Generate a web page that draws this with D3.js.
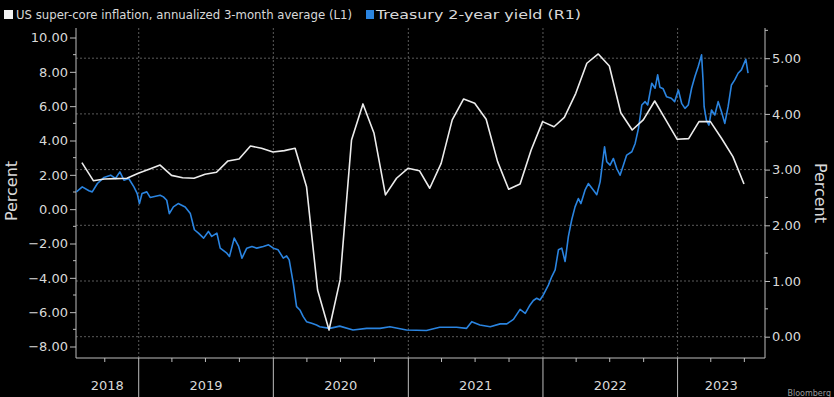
<!DOCTYPE html>
<html>
<head>
<meta charset="utf-8">
<script src="https://cdn.jsdelivr.net/npm/d3@7"></script>
<style>
  html, body { margin: 0; padding: 0; background: #000; overflow: hidden; }
  svg { display: block; }
  text { font-family: "DejaVu Sans", sans-serif; }
</style>
</head>
<body>
<svg id="chart" width="834" height="397"></svg>
<script>
// ---------- data ----------
const legendLabels = ["US super-core inflation, annualized 3-month average (L1)", "Treasury 2-year yield (R1)"];
const yearLabels = ["2018", "2019", "2020", "2021", "2022", "2023"];
const leftTicks = [-8, -6, -4, -2, 0, 2, 4, 6, 8, 10];
const rightTicks = [0, 1, 2, 3, 4, 5];

const inflMonths = [
  "2018-07","2018-08","2018-09","2018-10","2018-11","2018-12",
  "2019-01","2019-02","2019-03","2019-04","2019-05","2019-06","2019-07","2019-08","2019-09","2019-10","2019-11","2019-12",
  "2020-01","2020-02","2020-03","2020-04","2020-05","2020-06","2020-07","2020-08","2020-09","2020-10","2020-11","2020-12",
  "2021-01","2021-02","2021-03","2021-04","2021-05","2021-06","2021-07","2021-08","2021-09","2021-10","2021-11","2021-12",
  "2022-01","2022-02","2022-03","2022-04","2022-05","2022-06","2022-07","2022-08","2022-09","2022-10","2022-11","2022-12",
  "2023-01","2023-02","2023-03","2023-04","2023-05","2023-06"
];
const inflValues = [
  2.71, 1.66, 1.76, 1.78, 1.80, 2.09,
  2.34, 2.57, 1.97, 1.83, 1.80, 2.03, 2.15, 2.81, 2.92, 3.68, 3.55, 3.33,
  3.41, 3.55, 1.31, -4.71, -7.04, -4.12, 4.03, 6.13, 4.42, 0.83, 1.80, 2.38,
  2.24, 1.22, 2.67, 5.20, 6.42, 6.17, 5.24, 2.77, 1.16, 1.47, 3.45, 5.10,
  4.80, 5.35, 6.75, 8.50, 9.04, 8.34, 5.62, 4.61, 5.20, 6.30, 5.20, 4.07,
  4.11, 5.10, 5.10, 4.13, 3.06, 1.47
];

const yieldDates = [
  "2018-07-16","2018-08-01","2018-08-19","2018-08-28","2018-09-11","2018-09-29","2018-10-17","2018-10-30",
  "2018-11-11","2018-11-22","2018-12-05","2018-12-19","2018-12-28","2019-01-03","2019-01-10","2019-01-23",
  "2019-02-01","2019-02-28","2019-03-09","2019-03-18","2019-03-25","2019-04-05","2019-04-18","2019-05-07",
  "2019-05-21","2019-06-01","2019-06-12","2019-06-26","2019-07-09","2019-07-18","2019-08-01","2019-08-10",
  "2019-08-28","2019-09-04","2019-09-17","2019-09-29","2019-10-08","2019-10-21","2019-11-04","2019-11-17",
  "2019-12-05","2019-12-19","2020-01-01","2020-01-14","2020-01-28","2020-02-06","2020-02-13","2020-02-24",
  "2020-03-04","2020-03-13","2020-03-22","2020-03-31","2020-04-14","2020-04-27","2020-05-06","2020-06-02",
  "2020-06-29","2020-08-04","2020-09-10","2020-10-16","2020-11-12","2020-12-27","2021-02-19","2021-03-27",
  "2021-05-12","2021-06-08","2021-06-22","2021-07-14","2021-08-11","2021-09-07","2021-09-25","2021-10-13",
  "2021-10-31","2021-11-14","2021-11-27","2021-12-06","2021-12-15","2021-12-24","2022-01-02","2022-01-16",
  "2022-01-25","2022-02-03","2022-02-12","2022-02-21","2022-03-02","2022-03-11","2022-03-20","2022-03-29",
  "2022-04-07","2022-04-14","2022-04-25","2022-05-04","2022-05-18","2022-05-27","2022-06-05","2022-06-17",
  "2022-06-23","2022-07-02","2022-07-11","2022-07-20","2022-07-29","2022-08-07","2022-08-16","2022-08-30",
  "2022-09-08","2022-09-17","2022-09-26","2022-10-05","2022-10-12","2022-10-23","2022-11-01","2022-11-08",
  "2022-11-14","2022-11-23","2022-12-02","2022-12-15","2022-12-24","2023-01-03","2023-01-12","2023-01-21",
  "2023-01-30","2023-02-08","2023-02-17","2023-02-26","2023-03-07","2023-03-11","2023-03-14","2023-03-20",
  "2023-03-27","2023-04-03","2023-04-12","2023-04-21","2023-04-30","2023-05-09","2023-05-18","2023-05-27",
  "2023-06-05","2023-06-14","2023-06-23","2023-07-05","2023-07-11"
];
const yieldValues = [
  2.60, 2.69, 2.62, 2.60, 2.75, 2.86, 2.90, 2.84,
  2.96, 2.81, 2.84, 2.69, 2.57, 2.39, 2.57, 2.60,
  2.50, 2.54, 2.51, 2.45, 2.21, 2.33, 2.39, 2.33,
  2.21, 1.92, 1.86, 1.77, 1.89, 1.80, 1.86, 1.59,
  1.50, 1.44, 1.77, 1.62, 1.41, 1.59, 1.62, 1.59,
  1.62, 1.65, 1.59, 1.56, 1.41, 1.45, 1.38, 0.96,
  0.54, 0.48, 0.36, 0.27, 0.24, 0.21, 0.18, 0.15,
  0.19, 0.12, 0.15, 0.15, 0.18, 0.12, 0.11, 0.17,
  0.17, 0.15, 0.27, 0.21, 0.18, 0.23, 0.23, 0.31,
  0.49, 0.42, 0.57, 0.65, 0.69, 0.66, 0.75, 0.93,
  1.08, 1.20, 1.56, 1.59, 1.35, 1.80, 2.10, 2.33,
  2.48, 2.39, 2.63, 2.75, 2.63, 2.55, 2.78, 3.41,
  3.14, 3.08, 3.20, 3.02, 2.90, 3.08, 3.26, 3.32,
  3.47, 3.74, 4.16, 4.22, 4.16, 4.55, 4.46, 4.70,
  4.48, 4.45, 4.31, 4.28, 4.22, 4.43, 4.19, 4.10,
  4.16, 4.46, 4.67, 4.85, 5.06, 4.61, 4.13, 3.89,
  3.80, 4.07, 3.98, 4.22, 4.04, 3.83, 4.13, 4.52,
  4.61, 4.73, 4.79, 4.98, 4.73
];

// ---------- build ----------
const parseDay = d3.timeParse("%Y-%m-%d");
const parseMonth = d3.timeParse("%Y-%m");
const inflData = inflMonths.map((m, i) => ({ date: d3.timeDay.offset(d3.timeMonth.offset(parseMonth(m), 1), -1), value: inflValues[i] }));
const yieldData = yieldDates.map((d, i) => ({ date: parseDay(d), value: yieldValues[i] }));

const svg = d3.select("#chart");
const W = 834, H = 397;
const plot = { left: 76, right: 765, top: 28, bottom: 358 };

const x = d3.scaleTime().domain([new Date(2018, 6, 15), new Date(2023, 7, 26)]).range([plot.left, plot.right]);
const yL = d3.scaleLinear().domain([-8, 10]).range([346.5, 37.5]);
const yR = d3.scaleLinear().domain([0, 5]).range([336.7, 58.2]);

const axisColor = "#bdbdbd";
const textColor = "#d9d9d9";
const gridColor = "#5a5a5a";

svg.append("rect").attr("width", W).attr("height", H).attr("fill", "#000");

// gridlines
const years = d3.timeYear.range(new Date(2019, 0, 1), x.domain()[1]);
svg.append("g").selectAll("line").data(years).join("line")
  .attr("x1", d => x(d)).attr("x2", d => x(d))
  .attr("y1", plot.top).attr("y2", plot.bottom)
  .attr("stroke", gridColor).attr("stroke-width", 1).attr("stroke-dasharray", "2,2");
svg.append("g").selectAll("line").data(rightTicks).join("line")
  .attr("x1", plot.left).attr("x2", plot.right)
  .attr("y1", d => yR(d)).attr("y2", d => yR(d))
  .attr("stroke", gridColor).attr("stroke-width", 1).attr("stroke-dasharray", "2,2");

// left axis
const gL = svg.append("g").attr("transform", `translate(${plot.left},0)`)
  .call(d3.axisLeft(yL).tickValues(leftTicks).tickSize(6).tickPadding(2).tickFormat(d3.format(".2f")));
gL.select(".domain").remove();
gL.selectAll(".tick line").attr("stroke", axisColor);
gL.selectAll(".tick text").attr("fill", textColor).style("font-size", "13px").style("font-family", "DejaVu Sans");
svg.append("g").selectAll("line").data(d3.range(-7, 10, 2)).join("line")
  .attr("x1", plot.left - 3).attr("x2", plot.left)
  .attr("y1", d => yL(d)).attr("y2", d => yL(d)).attr("stroke", axisColor);
svg.append("line").attr("x1", plot.left).attr("x2", plot.left).attr("y1", plot.top).attr("y2", plot.bottom)
  .attr("stroke", axisColor).attr("stroke-width", 1);

// right axis
const gR = svg.append("g").attr("transform", `translate(${plot.right},0)`)
  .call(d3.axisRight(yR).tickValues(rightTicks).tickSize(5).tickPadding(2).tickFormat(d3.format(".2f")));
gR.select(".domain").remove();
gR.selectAll(".tick line").attr("stroke", axisColor);
gR.selectAll(".tick text").attr("fill", textColor).style("font-size", "13px").style("font-family", "DejaVu Sans");
svg.append("g").selectAll("line").data(d3.range(0.5, 5.6, 1)).join("line")
  .attr("x1", plot.right).attr("x2", plot.right + 3)
  .attr("y1", d => yR(d)).attr("y2", d => yR(d)).attr("stroke", axisColor);
svg.append("line").attr("x1", plot.right).attr("x2", plot.right).attr("y1", plot.top).attr("y2", plot.bottom)
  .attr("stroke", axisColor).attr("stroke-width", 1);

// bottom axis
svg.append("line").attr("x1", plot.left).attr("x2", plot.right).attr("y1", plot.bottom).attr("y2", plot.bottom)
  .attr("stroke", axisColor);
const quarters = d3.timeMonth.every(3).range(x.domain()[0], x.domain()[1]).filter(d => d.getMonth() !== 0);
svg.append("g").selectAll("line").data(quarters).join("line")
  .attr("x1", d => x(d)).attr("x2", d => x(d))
  .attr("y1", plot.bottom).attr("y2", plot.bottom + 4).attr("stroke", axisColor);
svg.append("g").selectAll("line").data(years).join("line")
  .attr("x1", d => x(d)).attr("x2", d => x(d))
  .attr("y1", plot.bottom).attr("y2", H).attr("stroke", axisColor).attr("stroke-width", 1);
const yearStarts = yearLabels.map(y => new Date(+y, 0, 1));
svg.append("g").selectAll("text").data(yearLabels).join("text")
  .attr("x", (d, i) => {
    const a = Math.max(x(yearStarts[i]), plot.left);
    const b = Math.min(x(new Date(+d + 1, 0, 1)), plot.right);
    return (a + b) / 2;
  })
  .attr("y", 390).attr("text-anchor", "middle").attr("fill", textColor)
  .style("font-size", "13px").text(d => d);

// axis titles
svg.append("text").attr("transform", "translate(17,191) rotate(-90)").attr("text-anchor", "middle")
  .attr("fill", textColor).style("font-size", "16px").text("Percent");
svg.append("text").attr("transform", "translate(815,193) rotate(90)").attr("text-anchor", "middle")
  .attr("fill", textColor).style("font-size", "16px").text("Percent");

// lines
svg.append("path").datum(yieldData)
  .attr("d", d3.line().x(d => x(d.date)).y(d => yR(d.value)))
  .attr("fill", "none").attr("stroke", "#2a84e0").attr("stroke-width", 1.6).attr("stroke-linejoin", "round");
svg.append("path").datum(inflData)
  .attr("d", d3.line().x(d => x(d.date)).y(d => yL(d.value)))
  .attr("fill", "none").attr("stroke", "#ececec").attr("stroke-width", 1.6).attr("stroke-linejoin", "round");

// legend
const leg = svg.append("g");
leg.append("rect").attr("x", 4).attr("y", 10).attr("width", 9).attr("height", 9).attr("fill", "#f2f2f2");
leg.append("text").attr("x", 16).attr("y", 19).attr("fill", textColor).style("font-size", "12px")
  .attr("textLength", 336).attr("lengthAdjust", "spacingAndGlyphs").text(legendLabels[0]);
leg.append("rect").attr("x", 366).attr("y", 10).attr("width", 8).attr("height", 9).attr("fill", "#2a84e0");
leg.append("text").attr("x", 376).attr("y", 19).attr("fill", textColor).style("font-size", "12px")
  .attr("textLength", 205).attr("lengthAdjust", "spacingAndGlyphs").text(legendLabels[1]);

// watermark (bottom-right corner, small)
svg.append("text").attr("x", 831).attr("y", 396).attr("text-anchor", "end").attr("fill", "#9a9a9a")
  .style("font-size", "8px").text("Bloomberg");
</script>
</body>
</html>
